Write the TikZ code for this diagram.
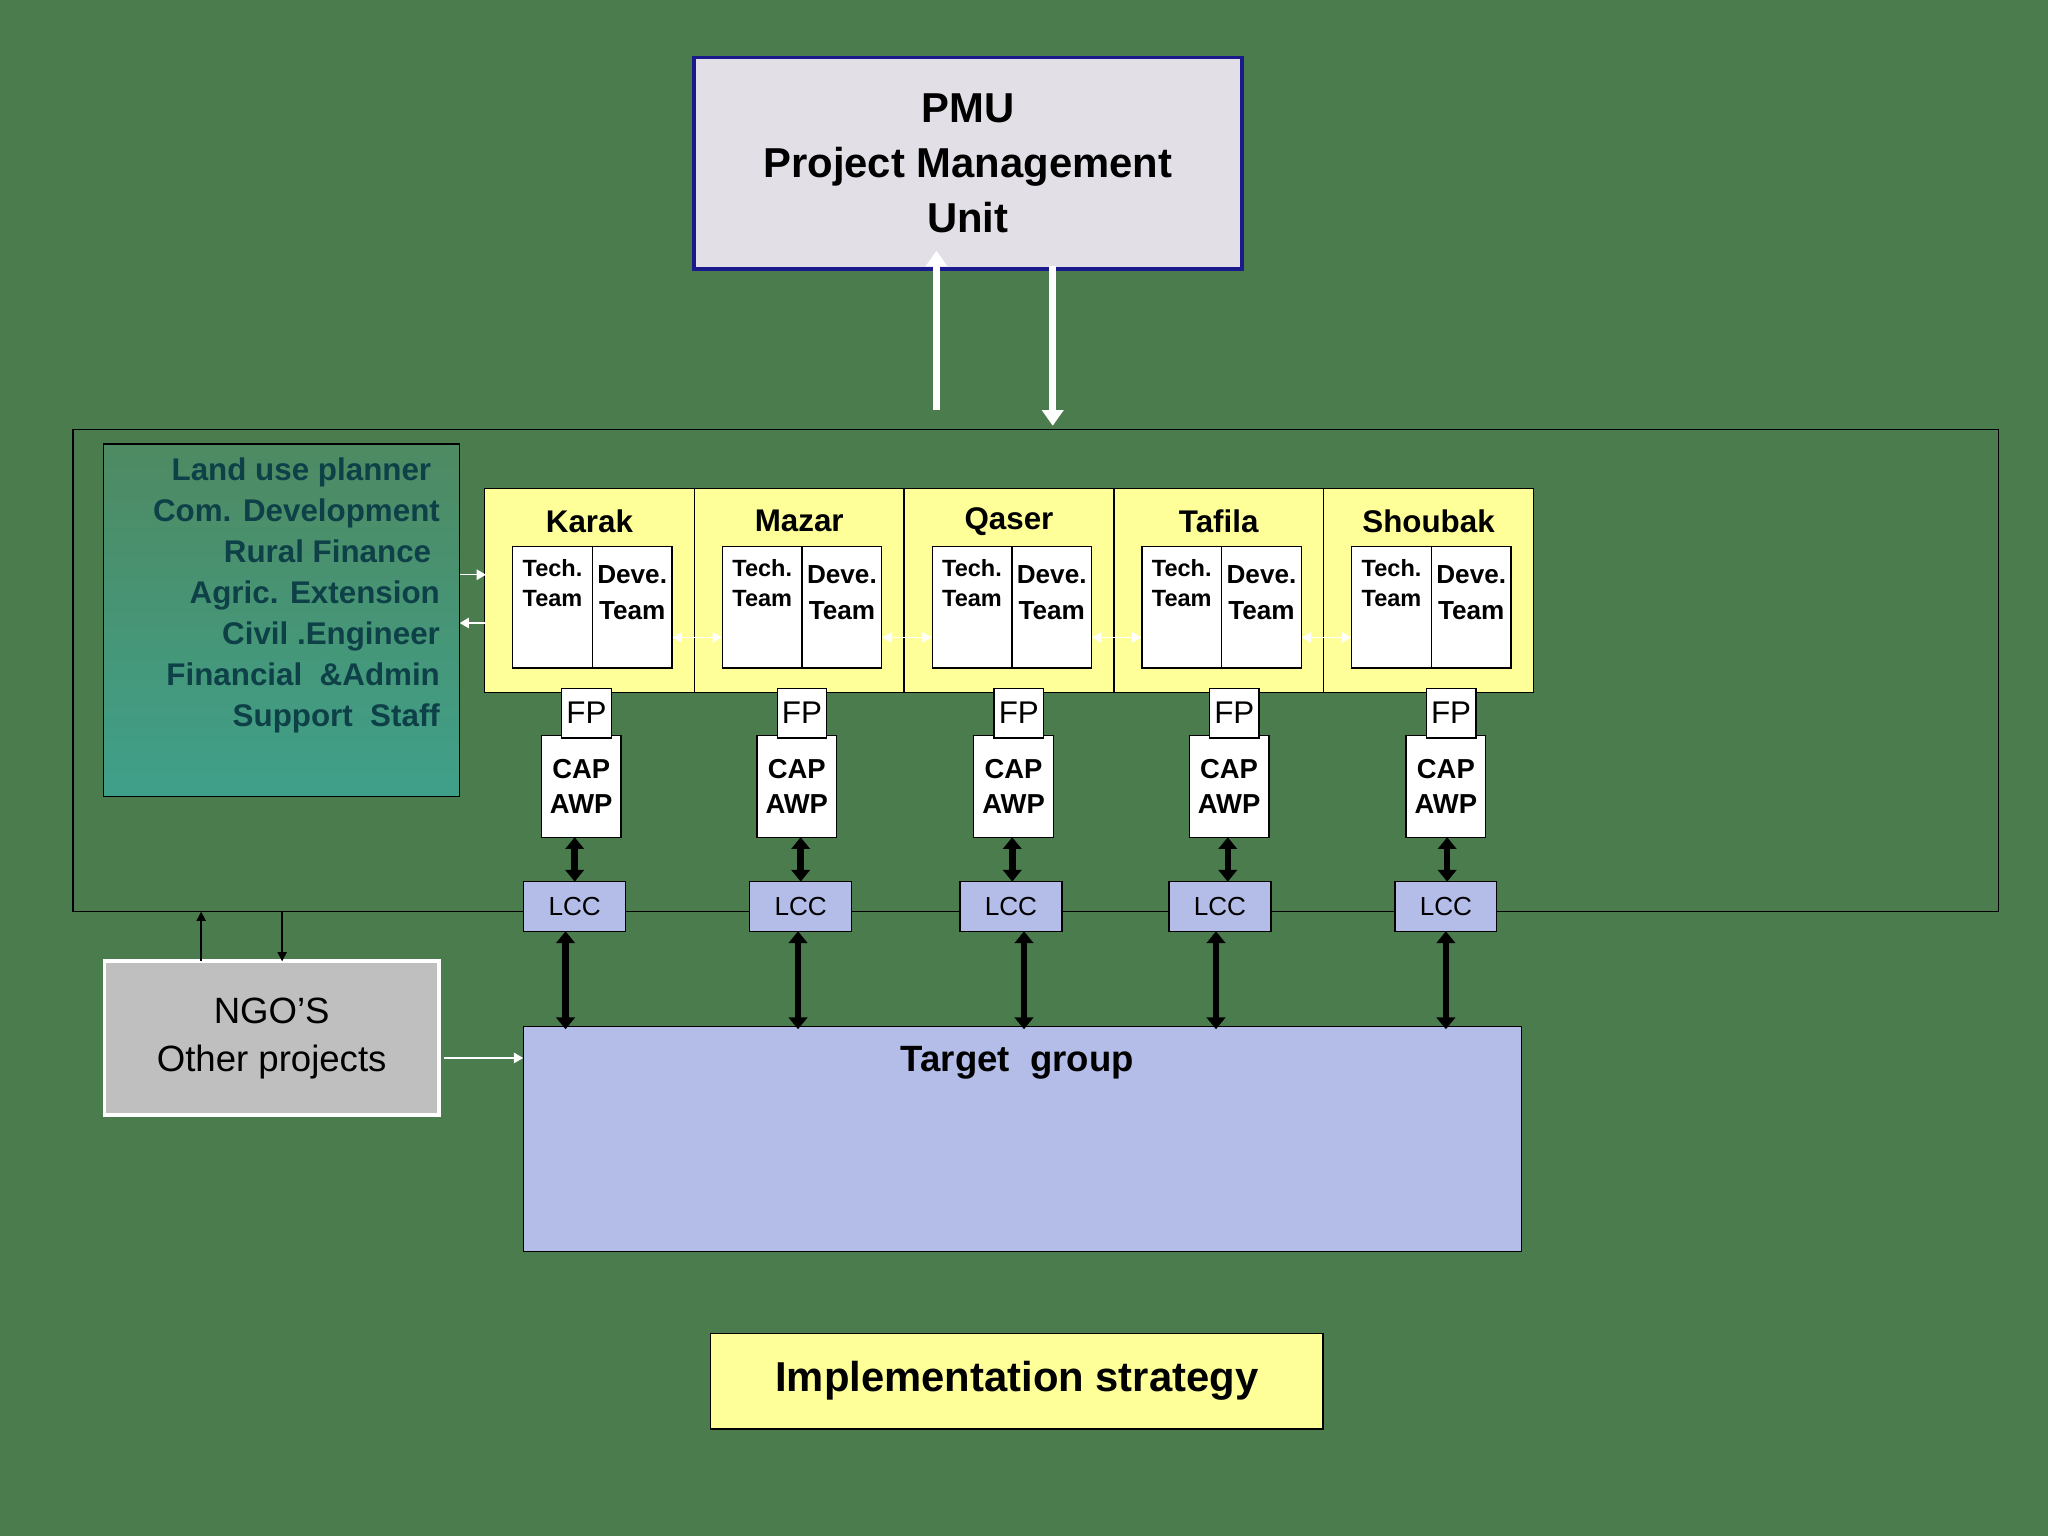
\documentclass[tikz,border=0pt]{standalone}
\usepackage{fontspec}
\setmainfont{Liberation Sans}
\usetikzlibrary{arrows.meta}
\definecolor{bg}{HTML}{4A7C4E}
\definecolor{pmufill}{HTML}{E2E0E6}
\definecolor{navy}{HTML}{1A1A8C}
\definecolor{yel}{HTML}{FFFF99}
\definecolor{lav}{HTML}{B4BCE8}
\definecolor{tealtop}{HTML}{4E8A62}
\definecolor{tealbot}{HTML}{3FA08A}
\definecolor{stafftxt}{HTML}{0E4048}
\begin{document}
\begin{tikzpicture}[x=1pt,y=-1pt,
  box/.style={draw=black,line width=1pt,inner sep=0pt},
  dist/.style={box,fill=yel,minimum width=160.6pt,minimum height=156pt},
  team/.style={box,fill=white,minimum width=61pt,minimum height=93pt},
  fpbox/.style={box,fill=white,minimum width=38pt,minimum height=38pt,font=\fontsize{24}{24}\selectfont},
  capbox/.style={box,fill=white,minimum width=61pt,minimum height=78pt,align=center,font=\bfseries\fontsize{21}{27}\selectfont},
  lcc/.style={box,fill=lav,minimum width=78pt,minimum height=38pt,font=\fontsize{20}{20}\selectfont},
  dbar/.style={line width=5pt,{Triangle[length=9pt,width=14pt]}-{Triangle[length=9pt,width=14pt]}},
  wsm/.style={white,line width=1pt,-{Triangle[length=7pt,width=8pt]}},
  wdbl/.style={white,line width=1pt,{Triangle[length=7pt,width=8pt]}-{Triangle[length=7pt,width=8pt]}}]
\fill[bg] (0,0) rectangle (1568,1176);
\useasboundingbox (0,0) rectangle (1568,1176);
% PMU
\node[draw=navy,line width=3pt,fill=pmufill,minimum width=420pt,minimum height=162pt,align=center,
  font=\bfseries\fontsize{32}{42}\selectfont] (pmu) at (741,125) {PMU\\Project Management\\Unit};
\coordinate (upa) at (717,314);
\coordinate (dnb) at (806,326);
\draw[white,line width=5pt,-{Triangle[length=12pt,width=16pt]}] (upa) -- (717,192);
\draw[white,line width=5pt,-{Triangle[length=12pt,width=16pt]}] (806,204) -- (dnb);
% big frame
\node[box,minimum width=1474pt,minimum height=369pt] (frame) at (793,513.5) {};
% staff box
\shade[top color=tealtop,bottom color=tealbot] (79,340) rectangle (352,610);
\node[box,minimum width=273pt,minimum height=270pt] (staff) at (215.5,475) {};
\node[anchor=north east,align=right,text=stafftxt,font=\bfseries\fontsize{24}{31.5}\selectfont,inner sep=0pt] (stafft) at (337,350)
 {Land use planner\phantom{l}\\Com. Development\\Rural Finance\phantom{l}\\Agric. Extension\\Civil .Engineer\\Financial \ \&Admin\\Support \ Staff};
% districts
\foreach \n/\name/\cx/\cc [count=\i] in {karak/Karak/451.3/445, mazar/Mazar/611.9/610, qaser/Qaser/772.5/776, tafila/Tafila/933.1/941, shoubak/Shoubak/1093.7/1107}{
  \node[dist] (d\i) at (\cx,452) {};
  \node[font=\bfseries\fontsize{24}{24}\selectfont] (dn\i) at (\cx,399) {\name};
  \node[team,anchor=north west] (t\i) at (\cx-59.3,418) {};
  \node[team,anchor=north west] (v\i) at (\cx+1.7,418) {};
  \node[anchor=north,align=center,font=\bfseries\fontsize{18}{23}\selectfont,inner sep=0pt] at ([yshift=-10pt]t\i.north) {Tech.\\Team};
  \node[anchor=north,align=center,font=\bfseries\fontsize{20}{27}\selectfont,inner sep=0pt] at ([yshift=-15pt]v\i.north) {Deve.\\Team};
  \node[capbox] (c\i) at (\cc,602) {CAP\\AWP};
  \node[fpbox] (f\i) at (\cc+4,546) {FP};
}
\node[lcc] (l1) at (440,694) {LCC};
\node[lcc] (l2) at (613,694) {LCC};
\node[lcc] (l3) at (774,694) {LCC};
\node[lcc] (l4) at (934,694) {LCC};
\node[lcc] (l5) at (1107,694) {LCC};
\foreach \i/\x in {1/440,2/613,3/775,4/940,5/1108}
  \draw[dbar] (\x,641) -- (\x,675);
% target group
\node[box,fill=lav,minimum width=764pt,minimum height=172pt] (tg) at (783,872) {};
\node[font=\bfseries\fontsize{28}{28}\selectfont] at (779,814) {Target \ group};
\foreach \i/\x in {1/433,2/611,3/784,4/931,5/1107}
  \draw[dbar] (\x,713) -- (\x,788);
% small white arrows
\draw[wsm] (352,440) -- (372,440);
\draw[wsm] (372,477) -- (352,477);
\foreach \i/\j in {1/2,2/3,3/4,4/5}
  \draw[wdbl] ([yshift=-23pt]v\i.east) -- ([yshift=-23pt]t\j.west);
% NGO
\node[draw=white,line width=3pt,fill=gray!50,minimum width=256pt,minimum height=118pt,align=center,
  font=\fontsize{28}{37}\selectfont] (ngo) at (208,795) {NGO’S\\Other projects};
\draw[line width=1pt,-{Triangle[length=7pt,width=7pt]}] (154,736) -- (154,698);
\draw[line width=1pt,-{Triangle[length=7pt,width=7pt]}] (216,698) -- (216,736);
\draw[wsm] (340,810) -- (tg.west |- 0,810);
% caption
\node[box,fill=yel,minimum width=469pt,minimum height=73pt,font=\bfseries\fontsize{32}{32}\selectfont] (impl) at (778.5,1057.5) {Implementation strategy};
\end{tikzpicture}
\end{document}
